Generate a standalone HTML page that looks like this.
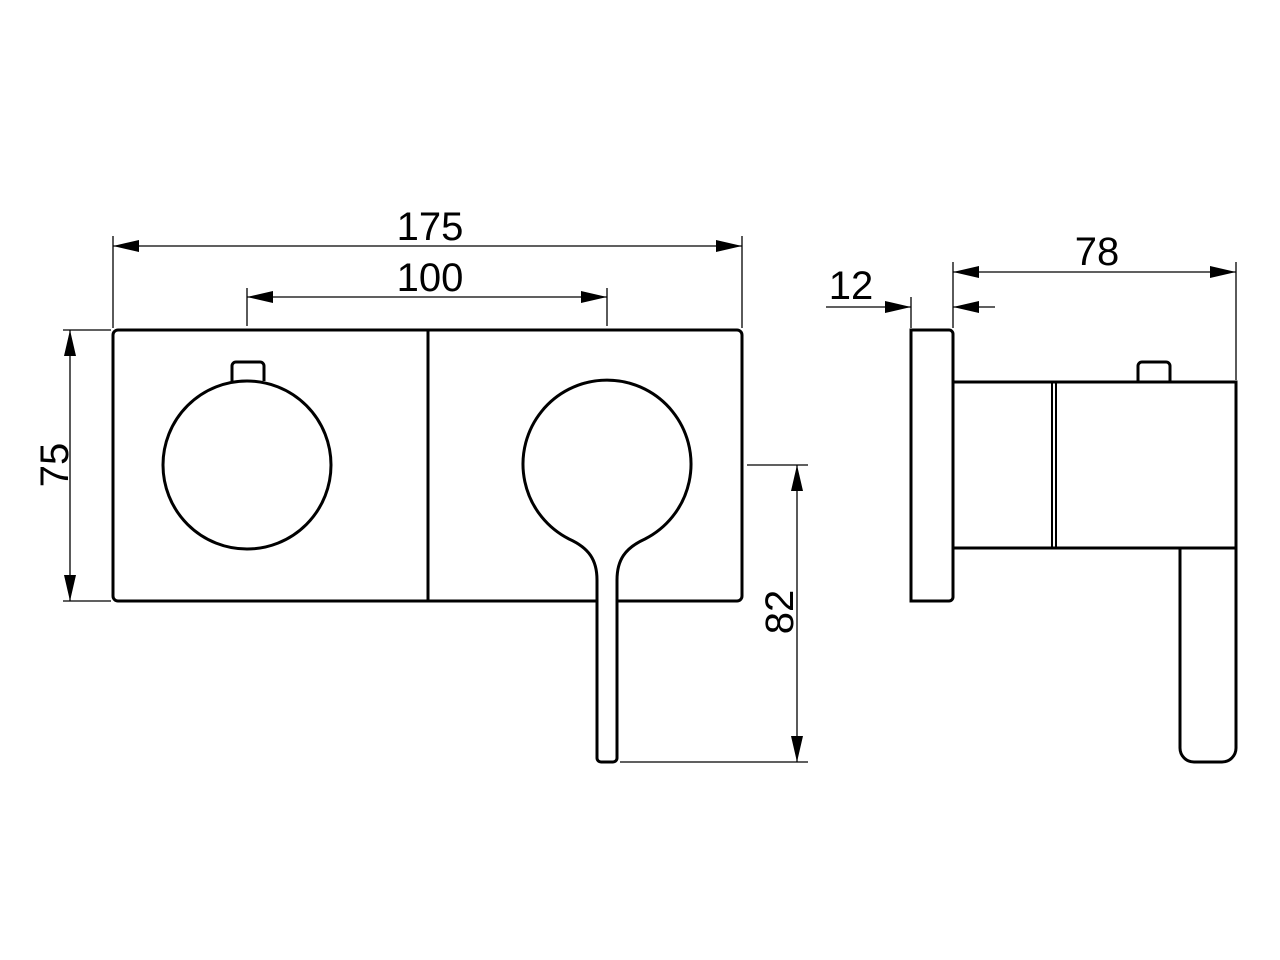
<!DOCTYPE html>
<html><head><style>body{margin:0;background:#fff}svg{display:block}text{font-family:"Liberation Sans",sans-serif;font-size:40px;fill:#000}</style></head><body>
<svg width="1280" height="960" viewBox="0 0 1280 960">
<defs>
<marker id="a" viewBox="0 0 26 12" refX="26" refY="6" markerWidth="26" markerHeight="12" markerUnits="userSpaceOnUse" orient="auto-start-reverse"><path d="M0,0L26,6L0,12z" fill="#000"/></marker>
</defs>
<g fill="none" stroke="#000" stroke-width="1.3">
<line x1="113" y1="236" x2="113" y2="328"/><line x1="742" y1="236" x2="742" y2="328"/>
<line x1="113" y1="246" x2="742" y2="246" marker-start="url(#a)" marker-end="url(#a)"/>
<line x1="247" y1="288" x2="247" y2="326"/><line x1="607" y1="288" x2="607" y2="326"/>
<line x1="247" y1="297" x2="607" y2="297" marker-start="url(#a)" marker-end="url(#a)"/>
<line x1="63" y1="330" x2="111" y2="330"/><line x1="63" y1="601" x2="111" y2="601"/>
<line x1="70" y1="330" x2="70" y2="601" marker-start="url(#a)" marker-end="url(#a)"/>
<line x1="747" y1="465" x2="808" y2="465"/><line x1="620" y1="762" x2="808" y2="762"/>
<line x1="797" y1="465" x2="797" y2="762" marker-start="url(#a)" marker-end="url(#a)"/>
<line x1="953" y1="262" x2="953" y2="328"/><line x1="1236" y1="262" x2="1236" y2="380"/>
<line x1="953" y1="272" x2="1236" y2="272" marker-start="url(#a)" marker-end="url(#a)"/>
<line x1="911" y1="297" x2="911" y2="328"/>
<line x1="826" y1="307" x2="911" y2="307" marker-end="url(#a)"/>
<line x1="995" y1="307" x2="953" y2="307" marker-end="url(#a)"/>
</g>
<g fill="none" stroke="#000" stroke-width="3">
<rect x="113" y="330" width="629" height="271" rx="5"/>
<line x1="428" y1="330" x2="428" y2="601"/>
<path d="M232,381V366a4,4 0 0 1 4,-4H260a4,4 0 0 1 4,4V381"/>
<circle cx="247" cy="465" r="84" fill="#fff"/>
<path d="M597,601V758a4,4 0 0 0 4,4H613a4,4 0 0 0 4,-4V580C617,560 625,548 645,539A84,84 0 1 0 569,539C589,548 597,560 597,580Z" fill="#fff"/>
<path d="M911,330H949a4,4 0 0 1 4,4V597a4,4 0 0 1 -4,4H911Z"/>
<rect x="953" y="382" width="283" height="166"/>
<line x1="1052" y1="382" x2="1052" y2="548" stroke-width="2"/>
<line x1="1056" y1="382" x2="1056" y2="548" stroke-width="2"/>
<path d="M1138,382V366a4,4 0 0 1 4,-4H1166a4,4 0 0 1 4,4V382"/>
<path d="M1180,548V748a14,14 0 0 0 14,14H1222a14,14 0 0 0 14,-14V548"/>
</g>
<text x="430" y="240" text-anchor="middle">175</text>
<text x="430" y="291" text-anchor="middle">100</text>
<text x="1097" y="265" text-anchor="middle">78</text>
<text x="851" y="299" text-anchor="middle">12</text>
<text transform="translate(68,465) rotate(-90)" text-anchor="middle">75</text>
<text transform="translate(793,612) rotate(-90)" text-anchor="middle">82</text>
</svg>
</body></html>
